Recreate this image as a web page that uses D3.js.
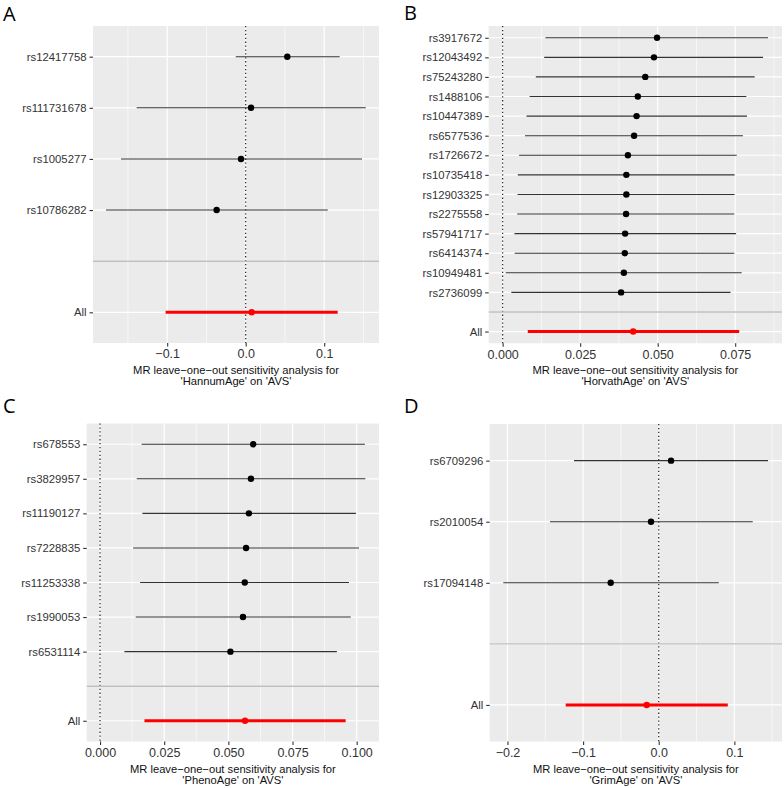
<!DOCTYPE html>
<html>
<head>
<meta charset="utf-8">
<script src="https://cdn.jsdelivr.net/npm/d3@7"></script>
<style>
  html, body { margin: 0; padding: 0; background: #fff; }
  svg { display: block; }
</style>
</head>
<body>
<svg id="chart" width="784" height="788"></svg>
<script>
// ---------- DATA ----------
// Panel A: HannumAge
const snpsA = ["rs12417758", "rs111731678", "rs1005277", "rs10786282"];
const betaA = [0.053, 0.0068, -0.006, -0.037];
const loA   = [-0.0127, -0.1389, -0.1589, -0.178];
const hiA   = [0.1197, 0.1529, 0.1482, 0.1045];
const allA  = [0.0076, -0.102, 0.1172];
const ticksA = [-0.1, 0.0, 0.1];
const tickLabelsA = ["\u22120.1", "0.0", "0.1"];
const titleA = ["MR leave\u2212one\u2212out sensitivity analysis for", "'HannumAge' on 'AVS'"];

// Panel B: HorvathAge
const snpsB = ["rs3917672", "rs12043492", "rs75243280", "rs1488106", "rs10447389", "rs6577536",
  "rs1726672", "rs10735418", "rs12903325", "rs2275558", "rs57941717", "rs6414374", "rs10949481", "rs2736099"];
const betaB = [0.0498, 0.0488, 0.046, 0.0436, 0.0432, 0.0424, 0.0404, 0.0399, 0.0399, 0.0398, 0.0395, 0.0394, 0.0391, 0.0382];
const loB   = [0.0138, 0.0134, 0.0107, 0.0087, 0.0077, 0.0072, 0.0053, 0.0049, 0.0048, 0.0047, 0.0038, 0.0039, 0.001, 0.0028];
const hiB   = [0.0856, 0.084, 0.0813, 0.0786, 0.0788, 0.0775, 0.0755, 0.0748, 0.0748, 0.0747, 0.0753, 0.0747, 0.0771, 0.0735];
const allB  = [0.0421, 0.0081, 0.0763];
const ticksB = [0.0, 0.025, 0.05, 0.075];
const tickLabelsB = ["0.000", "0.025", "0.050", "0.075"];
const titleB = ["MR leave\u2212one\u2212out sensitivity analysis for", "'HorvathAge' on 'AVS'"];

// Panel C: PhenoAge
const snpsC = ["rs678553", "rs3829957", "rs11190127", "rs7228835", "rs11253338", "rs1990053", "rs6531114"];
const betaC = [0.0597, 0.0588, 0.058, 0.0569, 0.0564, 0.0557, 0.0508];
const loC   = [0.0162, 0.0143, 0.0165, 0.0129, 0.0156, 0.0139, 0.0095];
const hiC   = [0.1032, 0.1034, 0.0997, 0.1009, 0.097, 0.0977, 0.0923];
const allC  = [0.0565, 0.0173, 0.0957];
const ticksC = [0.0, 0.025, 0.05, 0.075, 0.1];
const tickLabelsC = ["0.000", "0.025", "0.050", "0.075", "0.100"];
const titleC = ["MR leave\u2212one\u2212out sensitivity analysis for", "'PhenoAge' on 'AVS'"];

// Panel D: GrimAge
const snpsD = ["rs6709296", "rs2010054", "rs17094148"];
const betaD = [0.0163, -0.0102, -0.0635];
const loD   = [-0.112, -0.1438, -0.2055];
const hiD   = [0.1446, 0.1243, 0.0794];
const allD  = [-0.0159, -0.123, 0.0913];
const ticksD = [-0.2, -0.1, 0.0, 0.1];
const tickLabelsD = ["\u22120.2", "\u22120.1", "0.0", "0.1"];
const titleD = ["MR leave\u2212one\u2212out sensitivity analysis for", "'GrimAge' on 'AVS'"];

// ---------- LAYOUT ----------
const panels = [
  { tag: "A", snps: snpsA, beta: betaA, lo: loA, hi: hiA, all: allA, ticks: ticksA, tickLabels: tickLabelsA, title: titleA,
    box: { l: 93, r: 379, t: 26, b: 343 }, xdom: [-0.1945, 0.1698], labelPos: [3, 20.5] },
  { tag: "B", snps: snpsB, beta: betaB, lo: loB, hi: hiB, all: allB, ticks: ticksB, tickLabels: tickLabelsB, title: titleB,
    box: { l: 488.7, r: 782, t: 26, b: 343.3 }, xdom: [-0.0045, 0.0901], labelPos: [404, 20] },
  { tag: "C", snps: snpsC, beta: betaC, lo: loC, hi: hiC, all: allC, ticks: ticksC, tickLabels: tickLabelsC, title: titleC,
    box: { l: 86.7, r: 379, t: 423.5, b: 741.5 }, xdom: [-0.0052, 0.1087], labelPos: [3, 413] },
  { tag: "D", snps: snpsD, beta: betaD, lo: loD, hi: hiD, all: allD, ticks: ticksD, tickLabels: tickLabelsD, title: titleD,
    box: { l: 489.7, r: 782, t: 424, b: 741.6 }, xdom: [-0.2235, 0.163], labelPos: [404, 413] }
];

const svg = d3.select("#chart");
const FONT = "Arimo, 'Liberation Sans', Arial, Helvetica, sans-serif";

panels.forEach(p => {
  const g = svg.append("g");
  const { l, r, t, b } = p.box;
  const x = d3.scaleLinear().domain(p.xdom).range([l, r]);
  const levels = p.snps.concat(["", "All"]);
  const y = d3.scalePoint().domain(levels).range([t, b]).padding(0.6);

  g.append("rect").attr("x", l).attr("y", t).attr("width", r - l).attr("height", b - t).attr("fill", "#EBEBEB");

  const step = p.ticks[1] - p.ticks[0];
  const minors = [];
  for (let v = p.ticks[0] - step / 2; v <= p.xdom[1]; v += step) {
    if (v >= p.xdom[0]) minors.push(v);
  }
  g.selectAll(".minor").data(minors).enter().append("line")
    .attr("x1", d => x(d)).attr("x2", d => x(d)).attr("y1", t).attr("y2", b)
    .attr("stroke", "#fff").attr("stroke-width", 0.6);
  g.selectAll(".majorx").data(p.ticks).enter().append("line")
    .attr("x1", d => x(d)).attr("x2", d => x(d)).attr("y1", t).attr("y2", b)
    .attr("stroke", "#fff").attr("stroke-width", 1.2);
  g.selectAll(".majory").data(levels).enter().append("line")
    .attr("x1", l).attr("x2", r).attr("y1", d => y(d)).attr("y2", d => y(d))
    .attr("stroke", "#fff").attr("stroke-width", 1.2);

  g.append("line").attr("x1", x(0)).attr("x2", x(0)).attr("y1", t).attr("y2", b)
    .attr("stroke", "#222").attr("stroke-width", 1.2).attr("stroke-dasharray", "1.3,2.6");

  g.append("line").attr("x1", l).attr("x2", r).attr("y1", y("")).attr("y2", y(""))
    .attr("stroke", "#BEBEBE").attr("stroke-width", 1.4);

  const rows = p.snps.map((s, i) => ({ snp: s, b: p.beta[i], lo: p.lo[i], hi: p.hi[i] }));
  g.selectAll(".eb").data(rows).enter().append("line")
    .attr("x1", d => x(d.lo)).attr("x2", d => x(d.hi)).attr("y1", d => y(d.snp)).attr("y2", d => y(d.snp))
    .attr("stroke", "#333").attr("stroke-width", 1.1);
  g.selectAll(".pt").data(rows).enter().append("circle")
    .attr("cx", d => x(d.b)).attr("cy", d => y(d.snp)).attr("r", 3.2).attr("fill", "#000");

  g.append("line").attr("x1", x(p.all[1])).attr("x2", x(p.all[2])).attr("y1", y("All")).attr("y2", y("All"))
    .attr("stroke", "#FF0000").attr("stroke-width", 3);
  g.append("circle").attr("cx", x(p.all[0])).attr("cy", y("All")).attr("r", 3.2).attr("fill", "#FF0000");

  const xa = g.append("g").attr("transform", `translate(0,${b})`)
    .call(d3.axisBottom(x).tickValues(p.ticks).tickFormat((d, i) => p.tickLabels[i]).tickSizeInner(3.5).tickSizeOuter(0).tickPadding(3));
  xa.attr("font-family", null).attr("font-size", null);
  xa.select(".domain").remove();
  xa.selectAll("line").attr("stroke", "#333").attr("stroke-width", 1.1);
  xa.selectAll("text").attr("fill", "#333").style("font-family", FONT).style("font-size", "12.5px");

  const ya = g.append("g").attr("transform", `translate(${l},0)`)
    .call(d3.axisLeft(y).tickSizeInner(3.5).tickSizeOuter(0).tickPadding(3));
  ya.attr("font-family", null).attr("font-size", null);
  ya.select(".domain").remove();
  ya.selectAll(".tick").filter(d => d === "").select("line").remove();
  ya.selectAll("line").attr("stroke", "#333").attr("stroke-width", 1.1);
  ya.selectAll("text").attr("fill", "#333").style("font-family", FONT).style("font-size", "11.3px");

  const cx = (l + r) / 2;
  g.append("text").attr("x", cx).attr("y", b + 31).attr("text-anchor", "middle")
    .style("font-family", FONT).style("font-size", "11.2px").attr("fill", "#111").text(p.title[0]);
  g.append("text").attr("x", cx).attr("y", b + 42).attr("text-anchor", "middle")
    .style("font-family", FONT).style("font-size", "11.2px").attr("fill", "#111").text(p.title[1]);

  svg.append("text").attr("x", p.labelPos[0]).attr("y", p.labelPos[1])
    .style("font-family", "'Open Sans', 'Noto Sans', sans-serif").style("font-size", "20px").attr("fill", "#000").text(p.tag);
});
</script>
</body>
</html>
